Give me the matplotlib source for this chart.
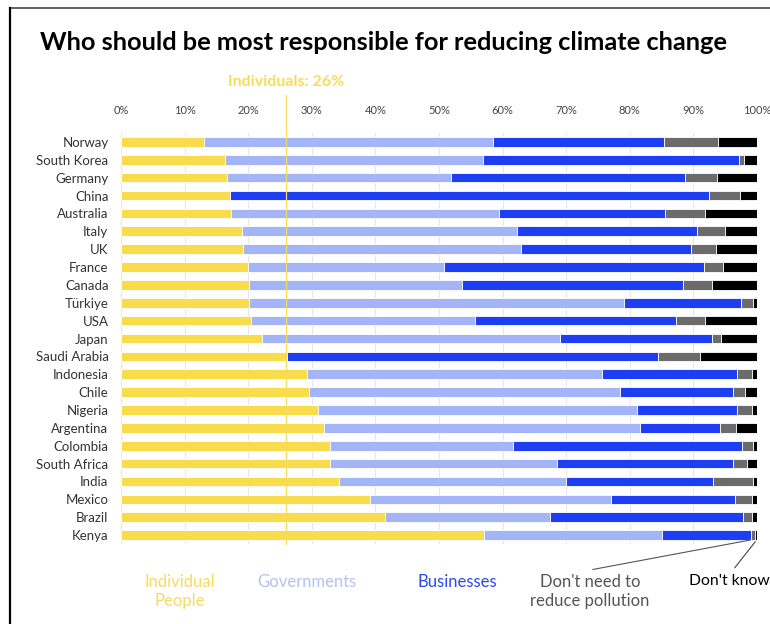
import matplotlib
matplotlib.use("Agg")
import matplotlib.pyplot as plt
from matplotlib.lines import Line2D
import numpy as np

plt.rcParams['font.family'] = ['Lato', 'DejaVu Sans']

countries = ["Norway", "South Korea", "Germany", "China", "Australia", "Italy", "UK",
             "France", "Canada", "Türkiye", "USA", "Japan", "Saudi Arabia", "Indonesia",
             "Chile", "Nigeria", "Argentina", "Colombia", "South Africa", "India",
             "Mexico", "Brazil", "Kenya"]

individuals = [13.0, 16.4, 16.6, 17.1, 17.3, 19.1, 19.2, 19.9, 20.1, 20.1, 20.4, 22.2,
               26.1, 29.3, 29.5, 30.9, 31.9, 32.8, 32.8, 34.3, 39.2, 41.5, 57.1]
governments = [45.5, 40.5, 35.3, 0.0, 42.1, 43.1, 43.7, 30.9, 33.5, 59.0, 35.3, 46.8,
               0.0, 46.4, 48.9, 50.3, 49.7, 28.8, 35.7, 35.6, 37.9, 26.0, 28.0]
businesses = [26.9, 40.3, 36.8, 75.4, 26.1, 28.4, 26.8, 40.9, 34.7, 18.4, 31.5, 23.9,
              58.4, 21.2, 17.8, 15.6, 12.6, 36.1, 27.7, 23.2, 19.5, 30.3, 13.9]
dont_need = [8.5, 0.8, 5.0, 4.8, 6.3, 4.3, 3.9, 2.9, 4.6, 1.9, 4.6, 1.5,
             6.6, 2.3, 1.9, 2.4, 2.5, 1.7, 2.3, 6.2, 2.6, 1.4, 0.7]
dont_know = [6.1, 2.0, 6.3, 2.7, 8.2, 5.1, 6.4, 5.4, 7.1, 0.6, 8.2, 5.6,
             8.9, 0.8, 1.9, 0.8, 3.3, 0.6, 1.5, 0.7, 0.8, 0.8, 0.3]

individuals_avg = 26
tick_values = list(range(0, 101, 10))
tick_labels = [f"{v}%" for v in tick_values]

series = [individuals, governments, businesses, dont_need, dont_know]
colors = ["#F8DC4C", "#A3B5F6", "#1E3EF4", "#6B6B6B", "#000000"]
legend_labels = ["Individual\nPeople", "Governments", "Businesses",
                 "Don't need to\nreduce pollution", "Don't know"]
legend_colors = ["#F6DC5E", "#B3C1F6", "#2A48F0", "#555555", "#000000"]

W, H = 770, 624
fig = plt.figure(figsize=(W / 100, H / 100), dpi=100)
fig.patch.set_facecolor("white")


def fx(px):
    return px / W


def fy(py):
    return 1 - py / H


ax = fig.add_axes([fx(121), fy(544), fx(757) - fx(121), fy(133) - fy(544)])
y = np.arange(len(countries))
left = np.zeros(len(countries))
for vals, col in zip(series, colors):
    vals = np.array(vals)
    ax.barh(y, vals, left=left, height=0.54, color=col,
            edgecolor="white", linewidth=0.6, zorder=2)
    left += vals

ax.set_xlim(0, 100)
ax.set_ylim(len(countries) - 0.5, -0.5)
ax.set_yticks(y)
ax.set_yticklabels(countries, fontsize=9.5, color="#333333")
ax.set_xticks(tick_values)
ax.set_xticklabels(tick_labels, fontsize=8, color="#444444")
ax.xaxis.tick_top()
ax.tick_params(axis="x", length=0, pad=12)
ax.tick_params(axis="y", length=0, pad=9)
for s in ax.spines.values():
    s.set_visible(False)
ax.grid(axis="x", color="#E6E6E6", linewidth=0.8, zorder=0)
ax.set_axisbelow(True)

# average line for individuals
ax.plot([individuals_avg, individuals_avg], [0, 1.093], color="#F6DC5E",
        linewidth=0.9, transform=ax.get_xaxis_transform(), clip_on=False, zorder=3)
fig.text(fx(286), fy(82), f"Individuals: {individuals_avg}%", ha="center", va="center",
         fontsize=11.5, fontweight="bold", color="#F6DC5E")

fig.text(fx(40), fy(43), "Who should be most responsible for reducing climate change",
         ha="left", va="center", fontsize=18.3, fontweight="bold", color="black")

# legend labels under the bars
legend_x = [180, 307, 457, 590, 689]
legend_ha = ["center", "center", "center", "center", "left"]
legend_size = [12, 12, 12, 12, 11.3]
for lab, col, x, ha, fs in zip(legend_labels, legend_colors, legend_x, legend_ha,
                               legend_size):
    fig.text(fx(x), fy(574), lab, ha=ha, va="top", fontsize=fs, color=col,
             linespacing=1.25)

# callouts to the last bar
last = len(countries) - 1
end_bus = individuals[last] + governments[last] + businesses[last]
ax.annotate("", xy=(end_bus + dont_need[last] / 2, last + 0.25),
            xytext=(fx(590), fy(570)), textcoords="figure fraction",
            arrowprops=dict(arrowstyle="-", color="#555555", lw=0.8),
            annotation_clip=False)
ax.annotate("", xy=(100, last + 0.25),
            xytext=(fx(733), fy(570)), textcoords="figure fraction",
            arrowprops=dict(arrowstyle="-", color="#444444", lw=0.8),
            annotation_clip=False)

# frame
fig.add_artist(Line2D([fx(10), 1], [fy(8), fy(8)], color="#555555", linewidth=1.3,
                      transform=fig.transFigure))
fig.add_artist(Line2D([fx(10), fx(10)], [fy(8), 0], color="black", linewidth=1.6,
                      transform=fig.transFigure))

fig.savefig("out.png", dpi=100, facecolor="white")
